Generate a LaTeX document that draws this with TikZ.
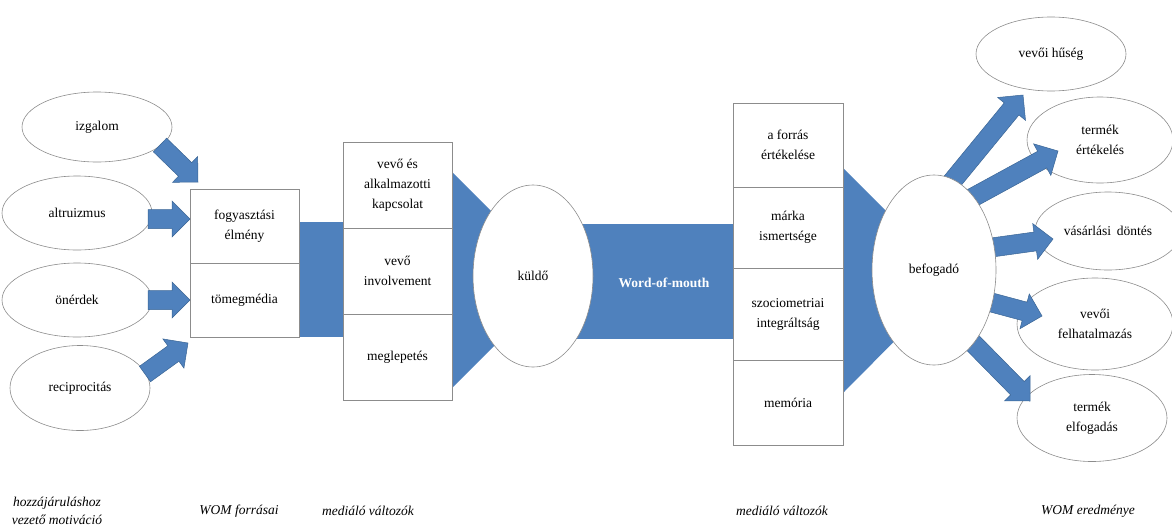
\documentclass[tikz,border=0pt]{standalone}
\usepackage{fontspec}
\setmainfont{Liberation Serif}
\usetikzlibrary{shapes.geometric,calc}
\definecolor{wblue}{HTML}{4F81BD}
\definecolor{wbord}{HTML}{3A6595}
\definecolor{lgray}{HTML}{8C8C8C}
\newcommand\fsz{\fontsize{13.5}{20}\selectfont}
\newcommand\csz{\fontsize{13.5}{18}\selectfont}
\tikzset{
 oval/.style={ellipse, draw=lgray, fill=white, line width=0.6pt, inner sep=0pt, align=center, font=\fsz},
 cell/.style={rectangle, draw=lgray, fill=white, line width=0.6pt, inner sep=0pt, align=center, font=\fsz},
 band/.style={fill=wblue, draw=none},
 barrowst/.style={fill=wblue, draw=wbord, line width=0.5pt, line join=miter},
 captext/.style={font=\csz\itshape, align=center, inner sep=0pt}
}
\newcommand\blockarrow[2]{%
 \path ($(#2)!18pt!(#1)$) coordinate (hb);
 \draw[barrowst] ($(#1)!9.5pt!90:(#2)$) -- ($(hb)!9.5pt!90:(#2)$) -- ($(hb)!18pt!90:(#2)$) -- (#2)
   -- ($(hb)!18pt!-90:(#2)$) -- ($(hb)!9.5pt!-90:(#2)$) -- ($(#1)!9.5pt!-90:(#2)$) -- cycle;
}
\begin{document}
\begin{tikzpicture}[x=1pt,y=-1pt]
\useasboundingbox (0,0) rectangle (1172,525);
% blue bands and funnels
\fill[band] (299,222) rectangle (460,337);
\fill[band] (452,172) -- (560,280) -- (452,388) -- cycle;
\fill[band] (560,224) rectangle (740,339);
\fill[band] (843,168) -- (955,280) -- (843,393) -- cycle;

% left ellipses
\node[oval, minimum width=150pt, minimum height=70pt] (izg) at (97,127) {izgalom};
\node[oval, minimum width=150pt, minimum height=74pt] (alt) at (77,213) {altruizmus};
\node[oval, minimum width=150pt, minimum height=74pt] (one) at (77,300) {önérdek};
\node[oval, minimum width=140pt, minimum height=85pt] (rec) at (80,388) {reciprocitás};

% WOM sources
\node[cell, minimum width=109pt, minimum height=74pt] (fogy) at (244.5,226) {fogyasztási\\élmény};
\node[cell, minimum width=109pt, minimum height=74pt] (tomeg) at (244.5,300) {tömegmédia};

% left arrows
\coordinate (la1t) at (160,145); \coordinate (la1h) at (198,182);
\coordinate (la2t) at (148,219); \coordinate (la2h) at (190,219);
\coordinate (la3t) at (148,300); \coordinate (la3h) at (190,300);
\coordinate (la4t) at (145,374); \coordinate (la4h) at (188,343);
\blockarrow{la1t}{la1h}
\blockarrow{la2t}{la2h}
\blockarrow{la3t}{la3h}
\blockarrow{la4t}{la4h}

% mediating variables (left)
\node[cell, minimum width=109pt, minimum height=86pt] (m1) at (397.5,185) {vevő és\\alkalmazotti\\kapcsolat};
\node[cell, minimum width=109pt, minimum height=86pt] (m2) at (397.5,271) {vevő\\involvement};
\node[cell, minimum width=109pt, minimum height=86pt] (m3) at (397.5,357) {meglepetés};

% sender
\node[oval, minimum width=120pt, minimum height=182pt] (kuldo) at (533,276) {küldő};
\node[font=\fsz\bfseries, text=white] (wom) at (664,283) {Word-of-mouth};

% mediating variables (right)
\node[cell, minimum width=110pt, minimum height=84pt] (r1) at (788,145) {a forrás\\értékelése};
\node[cell, minimum width=110pt, minimum height=81pt] (r2) at (788,227.5) {márka\\ismertsége};
\node[cell, minimum width=110pt, minimum height=92pt] (r3) at (788,314) {szociometriai\\integráltság};
\node[cell, minimum width=110pt, minimum height=85pt] (r4) at (788,402.5) {memória};

% outcomes
\node[oval, minimum width=150pt, minimum height=74pt] (o1) at (1051,54) {vevői hűség};
\node[oval, minimum width=146pt, minimum height=86pt] (o2) at (1100,140) {termék\\értékelés};
\node[oval, minimum width=146pt, minimum height=78pt] (o3) at (1108,231) {vásárlási \,döntés};
\node[oval, minimum width=156pt, minimum height=92pt] (o4) at (1095,324) {vevői\\felhatalmazás};
\node[oval, minimum width=150pt, minimum height=87pt] (o5) at (1092,418) {termék\\elfogadás};

% right arrows
\coordinate (ra1t) at (950,184); \coordinate (ra1h) at (1023,95);
\coordinate (ra2t) at (970,199); \coordinate (ra2h) at (1058,151);
\coordinate (ra3t) at (988,248); \coordinate (ra3h) at (1053,239);
\coordinate (ra4t) at (986,301); \coordinate (ra4h) at (1042,316);
\coordinate (ra5t) at (968,338); \coordinate (ra5h) at (1030,401);
\blockarrow{ra1t}{ra1h}
\blockarrow{ra2t}{ra2h}
\blockarrow{ra3t}{ra3h}
\blockarrow{ra4t}{ra4h}
\blockarrow{ra5t}{ra5h}

% receiver
\node[oval, minimum width=124pt, minimum height=190pt] (befog) at (934,270) {befogadó};

% captions
\node[captext] (c1) at (57,511) {hozzájáruláshoz\\vezető motiváció};
\node[captext] (c2) at (239,511) {WOM forrásai};
\node[captext] (c3) at (368,511) {mediáló változók};
\node[captext] (c4) at (782,511) {mediáló változók};
\node[captext] (c5) at (1088,511) {WOM eredménye};
\end{tikzpicture}
\end{document}
